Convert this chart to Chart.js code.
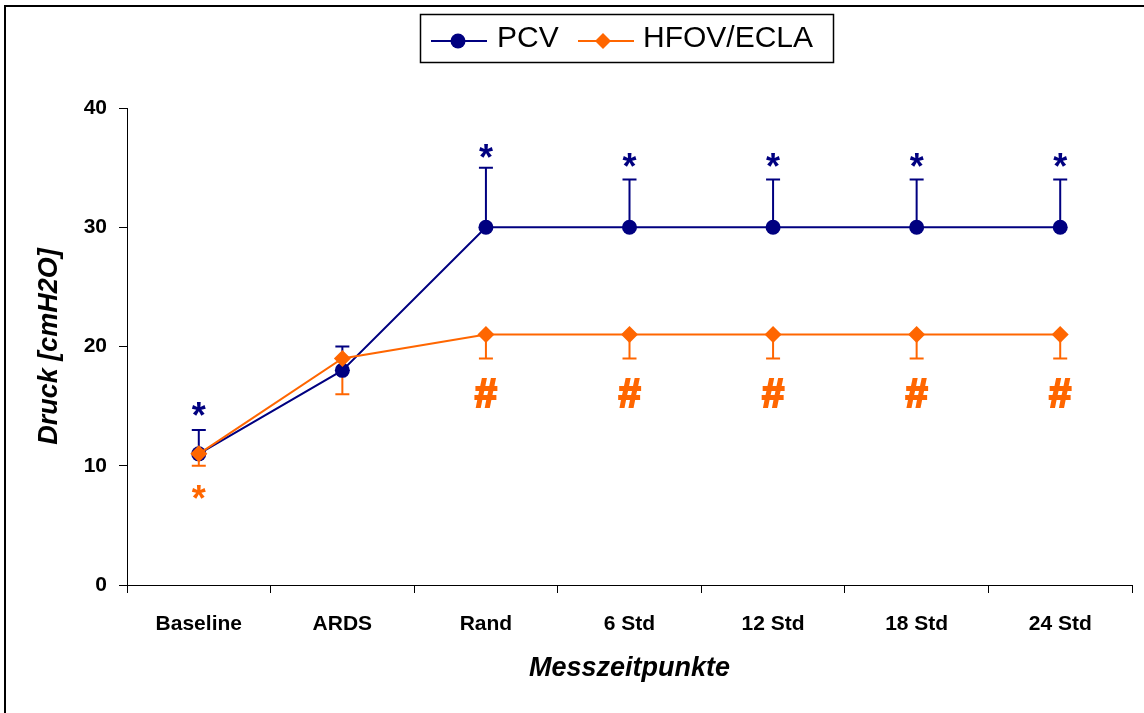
<!DOCTYPE html>
<html><head><meta charset="utf-8">
<script src="https://cdn.jsdelivr.net/npm/chart.js@4"></script>
<style>html,body{margin:0;padding:0;background:#fff;} canvas{display:block}</style>
</head><body>
<canvas id="c" width="1144" height="713"></canvas>
<script>
const categories = ['Baseline', 'ARDS', 'Rand', '6 Std', '12 Std', '18 Std', '24 Std'];
const pcvValues = [11, 18, 30, 30, 30, 30, 30];
const hfovValues = [11, 19, 21, 21, 21, 21, 21];
const pcvErrUp = [2, 2, 5, 4, 4, 4, 4];
const hfovErrDown = [1, 3, 2, 2, 2, 2, 2];
const yTicks = [0, 10, 20, 30, 40];
const pcvMarkText = ['*', '', '*', '*', '*', '*', '*'];
const pcvMarkY = [14.9, null, 36.6, 35.8, 35.8, 35.8, 35.8];
const hfovMarkText = ['*', '', '#', '#', '#', '#', '#'];
const hfovMarkY = [8.0, null, 16.2, 16.2, 16.2, 16.2, 16.2];

const NAVY = '#000080';
const ORANGE = '#FF6600';
const FONT = '"Liberation Sans", Arial, sans-serif';

const errorBars = {
  id: 'errorBars',
  beforeDatasetsDraw(chart) {
    const ctx = chart.ctx, x = chart.scales.x, y = chart.scales.y;
    ctx.save();
    ctx.lineWidth = 2;
    const draw = (vals, errs, dir, color) => {
      ctx.strokeStyle = color;
      vals.forEach((v, i) => {
        const px = x.getPixelForValue(i);
        const y0 = y.getPixelForValue(v);
        const y1 = y.getPixelForValue(v + dir * errs[i]);
        ctx.beginPath();
        ctx.moveTo(px, y0); ctx.lineTo(px, y1);
        ctx.moveTo(px - 7, y1); ctx.lineTo(px + 7, y1);
        ctx.stroke();
      });
    };
    draw(pcvValues, pcvErrUp, 1, NAVY);
    draw(hfovValues, hfovErrDown, -1, ORANGE);
    ctx.restore();
  }
};

const extras = {
  id: 'extras',
  afterDraw(chart) {
    const ctx = chart.ctx, x = chart.scales.x, y = chart.scales.y;
    ctx.save();
    ctx.textAlign = 'center';
    ctx.textBaseline = 'alphabetic';
    ctx.lineJoin = 'miter';
    const marks = (texts, ys, color) => {
      ctx.fillStyle = color;
      ctx.strokeStyle = color;
      texts.forEach((t, i) => {
        if (!t) return;
        const px = x.getPixelForValue(i);
        const py = y.getPixelForValue(ys[i]);
        if (t === '*') {
          ctx.font = 'bold 36px ' + FONT;
          ctx.fillText(t, px, py + 21);
        } else {
          ctx.font = 'bold 40px ' + FONT;
          ctx.lineWidth = 2;
          ctx.fillText(t, px, py + 15);
          ctx.strokeText(t, px, py + 15);
        }
      });
    };
    marks(pcvMarkText, pcvMarkY, NAVY);
    marks(hfovMarkText, hfovMarkY, ORANGE);

    // frame
    ctx.strokeStyle = '#000';
    ctx.lineWidth = 2;
    ctx.beginPath();
    ctx.moveTo(5, 713); ctx.lineTo(5, 6); ctx.lineTo(1144, 6);
    ctx.stroke();

    // legend
    ctx.lineWidth = 1.5;
    ctx.strokeStyle = '#000';
    ctx.strokeRect(420.5, 14.5, 413, 48);
    const ly = 41;
    ctx.lineWidth = 2;
    ctx.strokeStyle = NAVY;
    ctx.beginPath(); ctx.moveTo(431, ly); ctx.lineTo(487, ly); ctx.stroke();
    ctx.fillStyle = NAVY;
    ctx.beginPath(); ctx.arc(458, ly, 7.5, 0, Math.PI * 2); ctx.fill();
    ctx.strokeStyle = ORANGE;
    ctx.beginPath(); ctx.moveTo(578, ly); ctx.lineTo(634, ly); ctx.stroke();
    ctx.fillStyle = ORANGE;
    ctx.beginPath();
    ctx.moveTo(603, ly - 8); ctx.lineTo(611, ly); ctx.lineTo(603, ly + 8); ctx.lineTo(595, ly);
    ctx.closePath(); ctx.fill();
    ctx.fillStyle = '#000';
    ctx.font = '30px ' + FONT;
    ctx.textAlign = 'left';
    ctx.fillText(chart.data.datasets[1].label, 497, 47);
    ctx.fillText(chart.data.datasets[0].label, 643, 47);
    ctx.restore();
  }
};

new Chart(document.getElementById('c'), {
  type: 'line',
  data: {
    labels: categories,
    datasets: [
      {
        label: 'HFOV/ECLA', data: hfovValues, borderColor: ORANGE, backgroundColor: ORANGE,
        borderWidth: 2, pointStyle: 'rectRot', pointRadius: 8.5, pointBorderWidth: 0,
        pointBackgroundColor: ORANGE, tension: 0, order: 0
      },
      {
        label: 'PCV', data: pcvValues, borderColor: NAVY, backgroundColor: NAVY,
        borderWidth: 2, pointStyle: 'circle', pointRadius: 7.5, pointBorderWidth: 0,
        pointBackgroundColor: NAVY, tension: 0, order: 1
      }
    ]
  },
  options: {
    responsive: false,
    animation: false,
    layout: { padding: { top: 108, right: 12, left: 0, bottom: 0 } },
    plugins: { legend: { display: false }, tooltip: { enabled: false } },
    scales: {
      x: {
        offset: true,
        grid: { display: true, offset: true, drawOnChartArea: false, drawTicks: true, tickLength: 8, color: '#000' },
        border: { color: '#000', width: 1 },
        ticks: { color: '#000', font: { family: FONT, size: 21, weight: 'bold' }, padding: 19, maxRotation: 0 },
        title: { display: true, text: 'Messzeitpunkte', color: '#000',
          font: { family: FONT, size: 27, weight: 'bold', style: 'italic' }, padding: { top: 0, bottom: 28 } },
        afterFit(scale) { scale.height = 128; }
      },
      y: {
        min: 0, max: 40,
        afterBuildTicks(scale) { scale.ticks = yTicks.map(v => ({ value: v })); },
        grid: { display: true, drawOnChartArea: false, drawTicks: true, tickLength: 8, color: '#000' },
        border: { color: '#000', width: 1 },
        ticks: { color: '#000', font: { family: FONT, size: 21, weight: 'bold' }, padding: 12 },
        title: { display: true, text: 'Druck [cmH2O]', color: '#000',
          font: { family: FONT, size: 27, weight: 'bold', style: 'italic' }, padding: { top: 33, bottom: 0 } },
        afterFit(scale) { scale.width = 127; }
      }
    }
  },
  plugins: [errorBars, extras]
});
</script>
</body></html>
